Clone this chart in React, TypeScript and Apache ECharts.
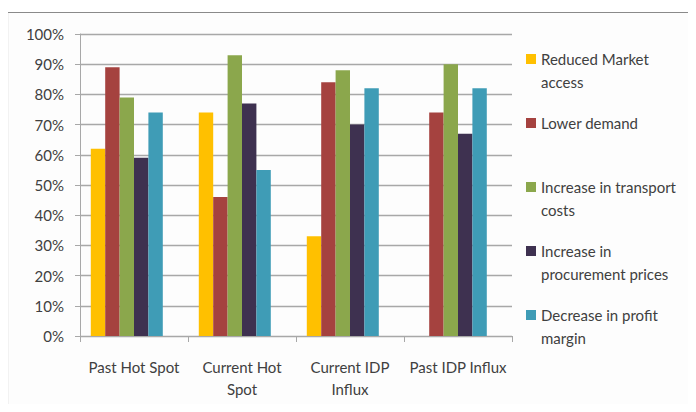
import React, { useEffect, useRef } from "react";
import * as echarts from "echarts";

const categories = ["Past Hot Spot", "Current Hot\nSpot", "Current IDP\nInflux", "Past IDP Influx"];
const seriesNames = [
  "Reduced Market access",
  "Lower demand",
  "Increase in transport costs",
  "Increase in procurement prices",
  "Decrease in profit margin",
];
const legendLabels = [
  "Reduced Market\naccess",
  "Lower demand",
  "Increase in transport\ncosts",
  "Increase in\nprocurement prices",
  "Decrease in profit\nmargin",
];
const reducedMarketAccess = [62, 74, 33, 0];
const lowerDemand = [89, 46, 84, 74];
const transportCosts = [79, 93, 88, 90];
const procurementPrices = [59, 77, 70, 67];
const profitMargin = [74, 55, 82, 82];
const colors = ["#FFC000", "#A5423F", "#8BA74C", "#3E3150", "#3F9CB6"];

const FONT = "Lato, 'Open Sans', sans-serif";
const TEXT = "#404040";
const GRID = "#a8a8a8";
const LINE_H = 23;

export default function App() {
  const ref = useRef<HTMLDivElement>(null);

  useEffect(() => {
    if (!ref.current) return;
    const chart = echarts.init(ref.current, undefined, { renderer: "svg" });
    const values = [reducedMarketAccess, lowerDemand, transportCosts, procurementPrices, profitMargin];
    const series: any[] = values.map((data, i) => ({
      name: seriesNames[i],
      type: "bar",
      data,
      itemStyle: { color: colors[i] },
      barGap: "0%",
      barCategoryGap: "20%",
    }));
    // empty sixth slot keeps each cluster shifted left within its category
    series.push({
      name: "spacer",
      type: "bar",
      data: ["-", "-", "-", "-"],
      itemStyle: { color: "transparent" },
      barGap: "0%",
      barCategoryGap: "20%",
    });

    // One legend block per series on a fixed 64px pitch. Legend text is centred
    // on its swatch, so wrapped labels get an empty leading line to put the
    // swatch beside their first line.
    const legends = seriesNames.map((name, i) => {
      const wrapped = legendLabels[i].includes("\n");
      const text = wrapped ? "\n" + legendLabels[i] : legendLabels[i];
      const lines = text.split("\n").length;
      const firstLineY = 59 + i * 64;
      return {
        orient: "vertical",
        left: 526,
        top: firstLineY - ((lines - 1) / 2) * LINE_H - LINE_H / 2,
        padding: 0,
        itemWidth: 10,
        itemHeight: 10,
        icon: "rect",
        data: [name],
        formatter: () => text,
        textStyle: {
          fontFamily: FONT,
          fontSize: 15,
          color: TEXT,
          lineHeight: LINE_H,
        },
      };
    });

    chart.setOption({
      animation: false,
      backgroundColor: "#ffffff",
      textStyle: { fontFamily: FONT },
      graphic: [
        {
          type: "rect",
          z: -10,
          silent: true,
          shape: { x: 7.5, y: 12.5, width: 700, height: 410 },
          style: { fill: "#fdfdfd", stroke: "#8a8a8a", lineWidth: 1.2 },
        },
      ],
      grid: { left: 80, right: 184, top: 34, bottom: 76, containLabel: false },
      legend: legends,
      xAxis: {
        type: "category",
        data: categories,
        axisLine: { show: true, lineStyle: { color: GRID, width: 1 } },
        axisTick: { show: true, length: 6, lineStyle: { color: GRID } },
        axisLabel: {
          margin: 20,
          fontFamily: FONT,
          fontSize: 15,
          color: TEXT,
          lineHeight: 22,
          interval: 0,
        },
      },
      yAxis: {
        type: "value",
        min: 0,
        max: 100,
        interval: 10,
        axisLine: { show: true, lineStyle: { color: GRID, width: 1 } },
        axisTick: { show: true, length: 5, lineStyle: { color: GRID } },
        splitLine: { show: true, lineStyle: { color: GRID, width: 1.4 } },
        axisLabel: {
          margin: 16,
          fontFamily: FONT,
          fontSize: 15,
          color: TEXT,
          formatter: "{value}%",
        },
      },
      series,
    });
    return () => chart.dispose();
  }, []);

  return <div ref={ref} style={{ width: 696, height: 412, margin: -8 }} />;
}
